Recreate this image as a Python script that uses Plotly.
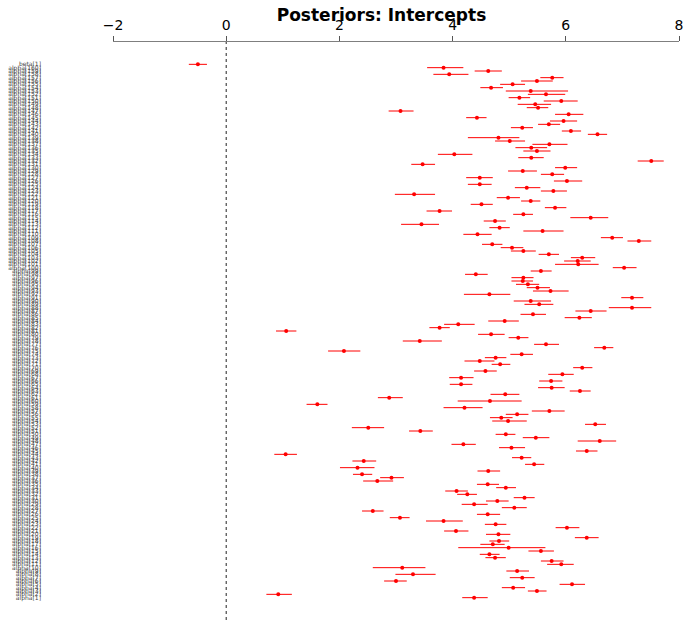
import plotly.graph_objects as go

# Parameter labels, top to bottom
labels = ["beta[1]"] + [f"alpha[{i}]" for i in range(160, 0, -1)]

means = [-0.50, 3.84, 4.63, 3.94, 5.76, 5.49, 5.06, 4.68, 5.38, 5.65,
         5.18, 5.92, 5.46, 5.51, 3.08, 6.05, 4.43, 5.96, 5.70, 5.23,
         6.09, 6.56, 4.81, 5.01, 5.71, 5.39, 5.49, 4.03, 5.39, 7.51,
         3.47, 5.99, 5.24, 5.76, 4.48, 6.02, 4.48, 5.31, 5.78, 3.32,
         4.98, 5.38, 4.51, 5.81, 3.77, 5.25, 6.44, 4.75, 3.45, 4.83,
         5.59, 4.44, 6.82, 7.29, 4.70, 5.05, 5.25, 5.70, 6.29, 6.21,
         6.22, 7.03, 5.56, 4.41, 5.25, 5.24, 5.33, 5.50, 5.73, 4.65,
         7.17, 5.38, 5.53, 7.17, 6.44, 5.42, 6.24, 4.92, 4.10, 3.77,
         1.06, 4.68, 5.16, 3.42, 5.65, 6.68, 2.08, 5.22, 4.76, 4.48,
         4.84, 6.29, 4.58, 5.94, 4.15, 5.74, 4.15, 5.75, 6.25, 4.93,
         2.88, 4.66, 1.61, 4.21, 5.71, 5.14, 4.86, 4.98, 6.52, 2.51,
         3.43, 4.94, 5.47, 6.60, 4.19, 5.04, 6.37, 1.05, 5.22, 2.43,
         5.44, 2.32, 4.63, 2.40, 2.92, 2.67, 4.62, 4.94, 4.07, 4.26,
         5.27, 4.79, 4.38, 5.09, 2.59, 4.62, 3.07, 3.84, 4.76, 6.02,
         4.06, 4.81, 6.37, 4.82, 4.71, 4.99, 5.56, 4.65, 4.75, 5.75,
         5.92, 3.11, 5.14, 3.30, 5.23, 3.00, 6.11, 5.07, 5.49, 0.92,
         4.38]

lows = [-0.66, 3.55, 4.39, 3.66, 5.55, 5.21, 4.84, 4.49, 4.94, 5.33,
        4.99, 5.61, 5.15, 5.31, 2.87, 5.81, 4.24, 5.72, 5.51, 5.03,
        5.93, 6.39, 4.27, 4.75, 5.41, 5.11, 5.25, 3.74, 5.16, 7.27,
        3.27, 5.81, 4.98, 5.56, 4.24, 5.79, 4.27, 5.10, 5.56, 2.98,
        4.78, 5.21, 4.32, 5.63, 3.54, 5.07, 6.08, 4.55, 3.09, 4.65,
        5.25, 4.19, 6.62, 7.09, 4.52, 4.85, 5.03, 5.52, 6.09, 5.97,
        5.81, 6.83, 5.38, 4.22, 5.04, 5.04, 5.12, 5.31, 5.42, 4.20,
        6.98, 5.08, 5.27, 6.76, 6.17, 5.20, 5.98, 4.63, 3.85, 3.59,
        0.88, 4.45, 4.99, 3.12, 5.44, 6.50, 1.80, 5.02, 4.57, 4.21,
        4.69, 6.13, 4.38, 5.69, 3.94, 5.53, 3.95, 5.51, 6.07, 4.67,
        2.68, 4.09, 1.42, 3.84, 5.40, 4.94, 4.66, 4.70, 6.34, 2.22,
        3.23, 4.76, 5.24, 6.21, 3.98, 4.82, 6.18, 0.85, 5.05, 2.23,
        5.28, 2.01, 4.44, 2.24, 2.72, 2.42, 4.43, 4.77, 3.87, 4.08,
        5.08, 4.59, 4.16, 4.87, 2.40, 4.43, 2.89, 3.53, 4.57, 5.82,
        3.85, 4.59, 6.16, 4.65, 4.49, 4.10, 5.34, 4.48, 4.58, 5.56,
        5.67, 2.59, 4.95, 2.99, 5.01, 2.79, 5.89, 4.87, 5.33, 0.71,
        4.17]

highs = [-0.34, 4.19, 4.87, 4.28, 5.96, 5.77, 5.28, 4.89, 6.04, 5.99,
         5.37, 6.21, 5.74, 5.69, 3.31, 6.31, 4.60, 6.20, 5.90, 5.42,
         6.27, 6.73, 5.18, 5.28, 6.03, 5.67, 5.73, 4.35, 5.61, 7.73,
         3.69, 6.20, 5.49, 5.97, 4.71, 6.29, 4.69, 5.55, 6.02, 3.69,
         5.19, 5.55, 4.71, 6.01, 3.99, 5.42, 6.75, 4.94, 3.76, 5.01,
         5.96, 4.69, 7.01, 7.51, 4.88, 5.25, 5.47, 5.88, 6.52, 6.44,
         6.58, 7.25, 5.75, 4.62, 5.43, 5.42, 5.53, 5.72, 6.05, 5.02,
         7.37, 5.74, 5.78, 7.51, 6.72, 5.65, 6.46, 5.17, 4.39, 3.95,
         1.24, 4.92, 5.34, 3.81, 5.88, 6.84, 2.37, 5.42, 4.95, 4.74,
         5.02, 6.47, 4.78, 6.14, 4.37, 5.94, 4.35, 5.98, 6.44, 5.18,
         3.12, 5.22, 1.79, 4.53, 5.98, 5.34, 5.06, 5.31, 6.71, 2.79,
         3.65, 5.11, 5.71, 6.89, 4.41, 5.28, 6.56, 1.25, 5.39, 2.65,
         5.62, 2.62, 4.84, 2.58, 3.14, 2.95, 4.82, 5.12, 4.27, 4.43,
         5.45, 4.99, 4.62, 5.31, 2.78, 4.84, 3.24, 4.18, 4.95, 6.24,
         4.28, 5.02, 6.58, 5.00, 4.92, 5.64, 5.79, 4.83, 4.94, 5.96,
         6.14, 3.52, 5.35, 3.70, 5.45, 3.19, 6.34, 5.28, 5.66, 1.16,
         4.62]

x_ticks = [-2, 0, 2, 4, 6, 8]
x_tick_text = ["\u22122", "0", "2", "4", "6", "8"]

err_plus = [h - m for h, m in zip(highs, means)]
err_minus = [m - l for m, l in zip(means, lows)]

W, H = 685, 620

fig = go.Figure()
fig.add_trace(go.Scatter(
    x=means, y=labels, mode="markers",
    marker=dict(color="#ff0000", size=4, line=dict(width=0)),
    error_x=dict(type="data", symmetric=False, array=err_plus,
                 arrayminus=err_minus, color="#ff0000", thickness=1, width=0),
    showlegend=False, hoverinfo="skip",
))

fig.add_shape(type="line", xref="x", yref="paper", x0=0, x1=0, y0=0, y1=1,
              line=dict(color="#222222", width=1, dash="dot"), layer="below")

fig.update_layout(
    width=W, height=H,
    margin=dict(l=113, r=6, t=42, b=0),
    paper_bgcolor="white", plot_bgcolor="white",
    font=dict(family="DejaVu Sans", color="black"),
    title=dict(text="<b>Posteriors: Intercepts</b>", x=381.5 / W, xref="container",
               xanchor="center", y=1 - 15 / H, yref="container", yanchor="middle",
               font=dict(size=17, family="DejaVu Sans", color="black")),
    xaxis=dict(side="top", range=[-2, 8], tickvals=x_ticks, ticktext=x_tick_text,
               showgrid=False, zeroline=False, showline=True, linecolor="#7f7f7f",
               linewidth=1, ticks="outside", ticklen=5, tickcolor="#555555",
               tickfont=dict(size=14, family="DejaVu Sans", color="black"),
               automargin=False),
    yaxis=dict(type="category", categoryorder="array", categoryarray=labels,
               range=[166.7, -6.7], showgrid=False, zeroline=False, showline=False,
               ticks="", tickmode="array", tickvals=labels, ticktext=labels,
               tickfont=dict(size=6, family="DejaVu Sans", color="#444444"),
               ticklabelstandoff=71, automargin=False),
)

fig.write_html("out.html", config={"displayModeBar": False},
               post_script="document.body.style.margin='0px';")
